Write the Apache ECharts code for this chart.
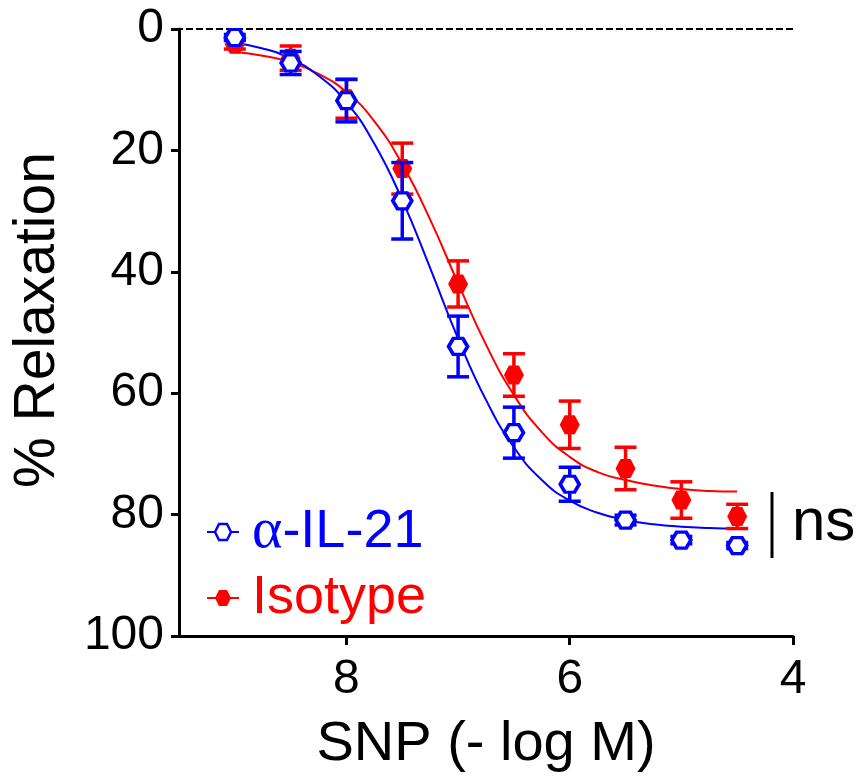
<!DOCTYPE html>
<html><head><meta charset="utf-8">
<script src="https://cdn.jsdelivr.net/npm/echarts@6/dist/echarts.min.js"></script>
<style>html,body{margin:0;padding:0;background:#fff}#c{width:861px;height:778px}</style>
</head><body><div id="c"></div>
<script>
// ---- data ----
const doses = [9, 8.5, 8, 7.5, 7, 6.5, 6, 5.5, 5, 4.5];           // SNP (-log M)
const il21Mean = [1.4, 5.6, 11.8, 28.3, 52.3, 66.5, 75.0, 80.9, 84.2, 85.1];
const il21Sem  = [0.5, 1.9, 3.5, 6.3, 5.0, 4.2, 2.8, 0.8, 0.6, 0.5];
const isoMean  = [2.5, 4.8, 11.5, 23.0, 42.0, 57.0, 65.2, 72.4, 77.6, 80.3];
const isoSem   = [0.8, 2.0, 3.2, 4.2, 3.8, 3.5, 3.9, 3.5, 3.0, 2.0];
// fitted curves
const fitX    = [9, 8.75, 8.5, 8.25, 8, 7.75, 7.5, 7.25, 7, 6.75, 6.5, 6.25, 6, 5.75, 5.5, 5.25, 5, 4.75, 4.5];
const il21Fit = [2.3, 3.2, 4.9, 7.7, 12.1, 18.9, 28.2, 39.4, 51.0, 61.1, 68.9, 74.3, 77.7, 79.7, 80.9, 81.6, 82.0, 82.2, 82.3];
const isoFit  = [3.8, 4.4, 5.5, 7.4, 10.4, 15.2, 22.3, 31.4, 41.9, 52.0, 60.3, 66.4, 70.5, 73.0, 74.3, 75.2, 75.8, 76.1, 76.2];
const xTicks = [8, 6, 4];
const seriesNames = ['α-IL-21', 'Isotype'];
const sigLabel = 'ns';

const BLUE = '#0000ff', RED = '#ff0000';
const FONT = "'Liberation Sans', Arial, sans-serif";
const HEX = 'path://M0,5 L3,0 L9,0 L12,5 L9,10 L3,10 Z';

function errRender(color) {
  return function (params, api) {
    const x = api.value(0), lo = api.value(1), hi = api.value(2);
    const p1 = api.coord([x, lo]), p2 = api.coord([x, hi]);
    const w = 11;
    const st = { stroke: color, lineWidth: 3.5, fill: null };
    return { type: 'group', children: [
      { type: 'line', shape: { x1: p1[0], y1: p1[1], x2: p2[0], y2: p2[1] }, style: st },
      { type: 'line', shape: { x1: p1[0] - w, y1: p1[1], x2: p1[0] + w, y2: p1[1] }, style: st },
      { type: 'line', shape: { x1: p2[0] - w, y1: p2[1], x2: p2[0] + w, y2: p2[1] }, style: st }
    ]};
  };
}

const chart = echarts.init(document.getElementById('c'), null, { renderer: 'canvas' });
chart.setOption({
  animation: false,
  backgroundColor: '#fff',
  grid: { left: 179, right: 68, top: 29, bottom: 140 },
  xAxis: {
    type: 'value', min: 4, max: 9.5, inverse: true,
    axisLine: { onZero: false, lineStyle: { color: '#000', width: 3 } },
    axisTick: { customValues: xTicks, length: 9, lineStyle: { color: '#000', width: 3 } },
    axisLabel: { customValues: xTicks, margin: 20, fontSize: 48, color: '#000', fontFamily: FONT },
    splitLine: { show: false },
    name: 'SNP (- log M)', nameLocation: 'middle', nameGap: 81,
    nameTextStyle: { fontSize: 56, color: '#000', fontFamily: FONT }
  },
  yAxis: {
    type: 'value', min: 0, max: 100, interval: 20, inverse: true,
    axisLine: { show: true, onZero: false, lineStyle: { color: '#000', width: 3 } },
    axisTick: { show: true, length: 8, lineStyle: { color: '#000', width: 3 } },
    axisLabel: { margin: 15, fontSize: 48, color: '#000', fontFamily: FONT },
    splitLine: { show: false },
    name: '% Relaxation', nameLocation: 'middle', nameGap: 112, nameRotate: 90,
    nameTextStyle: { fontSize: 57, color: '#000', fontFamily: FONT, padding: [0, 0, 0, 25] }
  },
  legend: {
    orient: 'vertical', left: 201, top: 498, itemGap: 10,
    itemWidth: 32, itemHeight: 20,
    textStyle: { fontSize: 54, fontFamily: FONT, padding: [0, 0, 0, 8],
      rich: { s: { fontFamily: "'Liberation Serif', serif", fontSize: 58, color: BLUE } } },
    formatter: n => n.charAt(0) === 'α' ? '{s|α}' + n.slice(1) : n,
    data: [
      { name: seriesNames[0], itemStyle: { color: '#fff', borderColor: BLUE, borderWidth: 2.5 },
        lineStyle: { color: BLUE, width: 2 }, textStyle: { color: BLUE } },
      { name: seriesNames[1], itemStyle: { color: RED, borderColor: RED, borderWidth: 0 },
        lineStyle: { color: RED, width: 2 }, textStyle: { color: RED } }
    ]
  },
  graphic: [
    { type: 'line', shape: { x1: 772, y1: 492, x2: 772, y2: 558 }, style: { stroke: '#000', lineWidth: 3 }, z: 10 },
    { type: 'text', left: 792, top: 493, style: { text: sigLabel, fontSize: 60, fontFamily: FONT, fill: '#000' }, z: 10 }
  ],
  series: [
    { type: 'line', name: 'fitIso', data: fitX.map((x, i) => [x, isoFit[i]]), smooth: true, showSymbol: false, symbol: 'none',
      lineStyle: { color: RED, width: 2 }, z: 2,
      markLine: { silent: true, symbol: 'none', label: { show: false },
        lineStyle: { color: '#000', type: [7, 3], width: 2 }, data: [{ yAxis: 0 }] } },
    { type: 'line', name: 'fitIL21', data: fitX.map((x, i) => [x, il21Fit[i]]), smooth: true, showSymbol: false, symbol: 'none',
      lineStyle: { color: BLUE, width: 2 }, z: 3 },
    { type: 'custom', name: 'errIso', renderItem: errRender(RED), encode: { x: 0, y: [1, 2] },
      data: doses.map((x, i) => [x, isoMean[i] - isoSem[i], isoMean[i] + isoSem[i]]), z: 4 },
    { type: 'line', name: seriesNames[1], data: doses.map((x, i) => [x, isoMean[i]]), symbol: HEX, symbolSize: [20, 19],
      showSymbol: true, lineStyle: { width: 0, color: RED }, itemStyle: { color: RED }, z: 5 },
    { type: 'custom', name: 'errIL21', renderItem: errRender(BLUE), encode: { x: 0, y: [1, 2] },
      data: doses.map((x, i) => [x, il21Mean[i] - il21Sem[i], il21Mean[i] + il21Sem[i]]), z: 6 },
    { type: 'line', name: seriesNames[0], data: doses.map((x, i) => [x, il21Mean[i]]), symbol: HEX, symbolSize: [19, 16],
      showSymbol: true, lineStyle: { width: 0, color: BLUE },
      itemStyle: { color: '#fff', borderColor: BLUE, borderWidth: 3.5 }, z: 7 }
  ]
});
</script></body></html>
